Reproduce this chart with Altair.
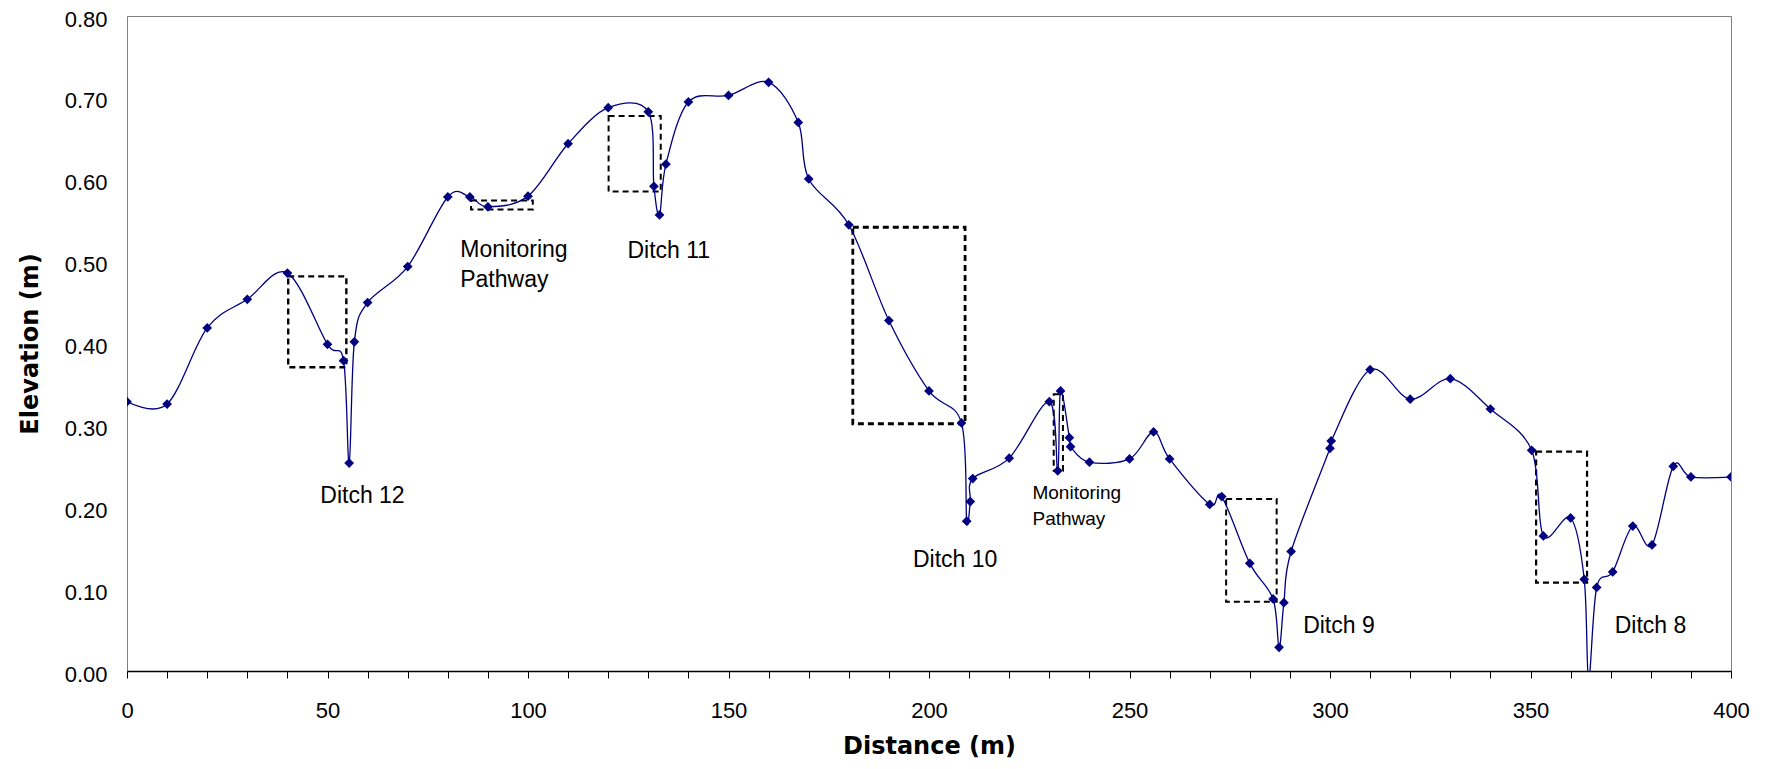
import altair as alt
import pandas as pd

# Survey profile points (distance m, elevation m), in survey order
distance = [0, 10, 20, 30, 40, 50, 54, 55.4, 56.7, 60, 70, 80, 85.5, 90, 100,
            110, 120, 130, 131.4, 132.8, 134.4, 140, 150, 160, 167.4, 170, 180, 190, 200, 208.1,
            209.4, 210.3, 210.9, 220, 230, 232.1, 232.8, 235, 235.3, 240, 250, 256, 260, 270, 273,
            280, 285.8, 287.3, 288.5, 290.3, 300, 300.3, 310, 320, 330, 340, 350.3, 353.2, 360, 363.4,
            364.5, 366.5, 370.5, 375.5, 380.3, 385.6, 390, 400]
elevation = [0.329, 0.326, 0.419, 0.454, 0.486, 0.399, 0.379, 0.254, 0.402, 0.450, 0.494, 0.579, 0.579, 0.567, 0.580,
             0.644, 0.688, 0.683, 0.592, 0.557, 0.619, 0.695, 0.703, 0.719, 0.670, 0.601, 0.545, 0.428, 0.342, 0.303,
             0.183, 0.207, 0.235, 0.260, 0.329, 0.2445, 0.342, 0.285, 0.274, 0.255, 0.259, 0.292, 0.259, 0.2035, 0.213,
             0.1315, 0.088, 0.029, 0.0835, 0.146, 0.272, 0.281, 0.368, 0.332, 0.357, 0.320, 0.2696, 0.165, 0.187, 0.112,
             -0.01, 0.102, 0.121, 0.177, 0.154, 0.250, 0.237, 0.237]

# Dashed boxes around features
box_x1 = [40.2, 85.8, 120.1, 181.0, 231.1, 274.1, 351.4]
box_x2 = [54.7, 101.2, 133.1, 209.0, 233.4, 286.7, 364.1]
box_y1 = [0.371, 0.5637, 0.5855, 0.302, 0.2445, 0.0846, 0.108]
box_y2 = [0.482, 0.5746, 0.678, 0.542, 0.338, 0.210, 0.268]
box_w = [2.4, 2.0, 2.0, 2.8, 2.0, 2.0, 2.2]

# Labels
label_text = ["Ditch 12", "Monitoring", "Pathway", "Ditch 11", "Ditch 10", "Ditch 9", "Ditch 8"]
label_x = [48.2, 83.1, 83.1, 124.8, 196.0, 293.3, 371.0]
label_y = [0.205, 0.506, 0.469, 0.504, 0.127, 0.046, 0.047]

small_text = ["Monitoring", "Pathway"]
small_x = [225.8, 225.8]
small_y = [0.2097, 0.178]

x_ticks = list(range(0, 401, 10))
y_ticks = [0.0, 0.1, 0.2, 0.3, 0.4, 0.5, 0.6, 0.7, 0.8]

profile = pd.DataFrame({"d": distance, "e": elevation, "o": list(range(len(distance)))})
boxes = pd.DataFrame({"x1": box_x1, "x2": box_x2, "y1": box_y1, "y2": box_y2, "w": box_w})
labels = pd.DataFrame({"t": label_text, "x": label_x, "y": label_y})
smalls = pd.DataFrame({"t": small_text, "x": small_x, "y": small_y})

NAVY = "#000080"
TICKFONT = "Liberation Sans"
TITLEFONT = "DejaVu Sans"

xscale = alt.Scale(domain=[0, 400], nice=False, zero=False)
yscale = alt.Scale(domain=[0, 0.8], nice=False, zero=False)

x_axis = alt.Axis(
    values=x_ticks,
    labelExpr="datum.value % 50 === 0 ? datum.label : ''",
    labelOverlap=False,
    labelFlush=False,
    labelBound=False,
    tickSize=7,
    tickColor="black",
    tickWidth=1,
    domainColor="black",
    domainWidth=1.5,
    grid=False,
    labelFont=TICKFONT,
    labelFontSize=22,
    labelColor="black",
    labelPadding=39,
    labelBaseline="alphabetic",
    title="Distance (m)",
    titleFont=TITLEFONT,
    titleFontSize=24,
    titleFontWeight="bold",
    titleColor="black",
    titleX=802,
    titleY=82,
    titleBaseline="alphabetic",
    titleAlign="center",
)

y_axis = alt.Axis(
    values=y_ticks,
    format=".2f",
    ticks=False,
    tickSize=0,
    domain=False,
    grid=False,
    labelFont=TICKFONT,
    labelFontSize=22,
    labelColor="black",
    labelPadding=20,
    labelOffset=3,
    title="Elevation (m)",
    titleFont=TITLEFONT,
    titleFontSize=24,
    titleFontWeight="bold",
    titleColor="black",
    titleAngle=270,
    titleX=-90,
    titleY=327.5,
    titleBaseline="alphabetic",
    titleAlign="center",
)

line = alt.Chart(profile).mark_line(
    interpolate="cardinal", color=NAVY, strokeWidth=1.3, clip=True
).encode(
    x=alt.X("d:Q", scale=xscale, axis=x_axis),
    y=alt.Y("e:Q", scale=yscale, axis=y_axis),
    order="o:Q",
)

pts = alt.Chart(profile).mark_point(
    shape="diamond", filled=True, color=NAVY, size=95, opacity=1, clip=True
).encode(
    x=alt.X("d:Q", scale=xscale),
    y=alt.Y("e:Q", scale=yscale),
)

rects = alt.Chart(boxes).mark_rect(
    fill="white", fillOpacity=0, stroke="black", strokeDash=[6, 4]
).encode(
    x="x1:Q", x2="x2:Q", y="y1:Q", y2="y2:Q",
    strokeWidth=alt.StrokeWidth("w:Q", scale=None, legend=None),
)

txt = alt.Chart(labels).mark_text(
    align="left", baseline="alphabetic", font=TICKFONT, fontSize=23, color="black"
).encode(x="x:Q", y="y:Q", text="t:N")

txt_small = alt.Chart(smalls).mark_text(
    align="left", baseline="alphabetic", font=TICKFONT, fontSize=19, color="black"
).encode(x="x:Q", y="y:Q", text="t:N")

chart = alt.layer(rects, line, pts, txt, txt_small).properties(
    width=1604,
    height=655,
    padding={"left": 119, "top": 8, "right": 20, "bottom": 92},
    autosize=alt.AutoSizeParams(type="none"),
    background="white",
).configure_view(
    stroke="#808080", strokeWidth=1
)

chart.save("out.html", embed_options={"renderer": "svg", "actions": False})
